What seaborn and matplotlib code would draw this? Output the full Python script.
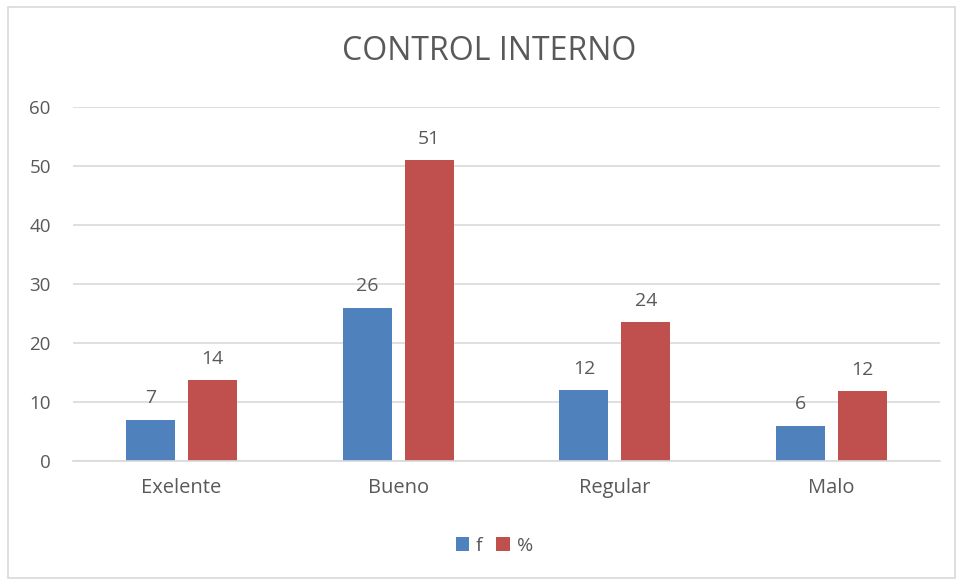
import matplotlib
matplotlib.use("Agg")
import matplotlib.pyplot as plt
import seaborn as sns
import pandas as pd
from matplotlib.patches import Rectangle

# data
categorias = ["Exelente", "Bueno", "Regular", "Malo"]
f_valores = [7, 26, 12, 6]
pct_valores = [13.7, 51.0, 23.5, 11.8]
pct_etiquetas = ["14", "51", "24", "12"]

df = pd.DataFrame({
    "categoria": categorias * 2,
    "serie": ["f"] * 4 + ["%"] * 4,
    "valor": f_valores + pct_valores,
})

sns.set_style("white")
plt.rcParams["font.family"] = ["Open Sans", "DejaVu Sans"]
gris = "#595959"

fig = plt.figure(figsize=(9.59, 5.81), dpi=100)
ax = fig.add_axes([73 / 959, 1 - 461 / 581, 867 / 959, 354 / 581])

sns.barplot(data=df, x="categoria", y="valor", hue="serie",
            palette=["#4f81bd", "#c0504d"], width=0.571, gap=0.21,
            saturation=1, linewidth=0, ax=ax, legend=True)

ax.set_ylim(0, 60)
ax.set_xlim(-0.5, 3.5)
ax.set_yticks(range(0, 61, 10))
ax.yaxis.grid(True, color="#d9d9d9", linewidth=1.2)
ax.set_axisbelow(True)
for s in ["top", "right", "left"]:
    ax.spines[s].set_visible(False)
ax.spines["bottom"].set_color("#d9d9d9")
ax.spines["bottom"].set_linewidth(1.2)
ax.tick_params(axis="y", length=0, labelsize=13.5, colors=gris, pad=16)
ax.tick_params(axis="x", length=0, labelsize=14.5, colors=gris, pad=12)
ax.set_xlabel("")
ax.set_ylabel("")

etiquetas = [str(v) for v in f_valores]
ax.bar_label(ax.containers[0], labels=etiquetas, padding=9, fontsize=14, color=gris)
ax.bar_label(ax.containers[1], labels=pct_etiquetas, padding=9, fontsize=14, color=gris)

ax.legend(loc="upper center", bbox_to_anchor=(0.486, -0.165), ncol=2, frameon=False,
          fontsize=14, labelcolor=gris, handlelength=0.7, handleheight=0.7,
          handletextpad=0.35, columnspacing=0.7)

fig.text(489 / 959, 1 - 52 / 581, "CONTROL INTERNO", ha="center", va="center",
         fontsize=23, color=gris)

fig.patches.append(Rectangle((8 / 959, 3 / 581), 947 / 959, 571 / 581,
                             transform=fig.transFigure, fill=False,
                             edgecolor="#d9d9d9", linewidth=1.2))

fig.savefig("out.png", dpi=100)
